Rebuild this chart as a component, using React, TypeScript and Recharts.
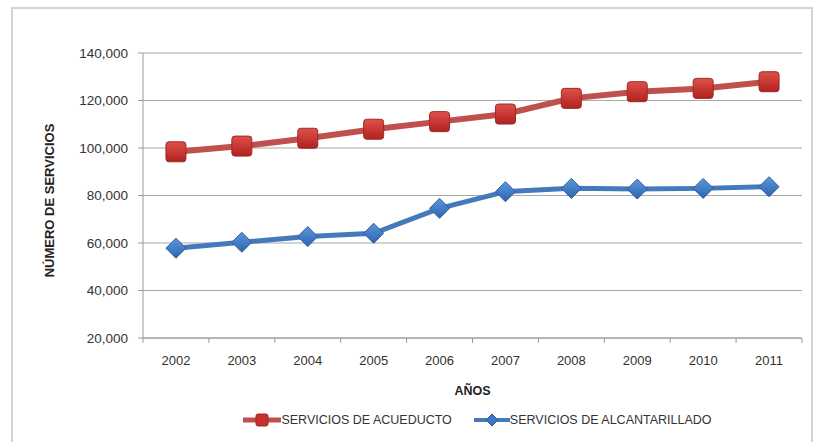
import React from 'react';
import { LineChart, Line, XAxis, YAxis, CartesianGrid, Legend } from 'recharts';

const anios = ['2002', '2003', '2004', '2005', '2006', '2007', '2008', '2009', '2010', '2011'];
const acueducto = [98400, 100800, 104100, 107900, 111100, 114300, 120900, 123700, 125100, 127900];
const alcantarillado = [57800, 60300, 62700, 64100, 74600, 81600, 83000, 82700, 83000, 83700];
const ticksY = [20000, 40000, 60000, 80000, 100000, 120000, 140000];

const ROJO = '#c0504d';
const AZUL = '#4479bb';

const datos = anios.map((anio, i) => ({
  anio,
  acueducto: acueducto[i],
  alcantarillado: alcantarillado[i],
}));

const fuente = '"Liberation Sans", Arial, sans-serif';
const ANCHO_PLOT = 659;
const MEDIA_BANDA = ANCHO_PLOT / anios.length / 2;

const Cuadrado = (props: any) => {
  const { cx, cy, index } = props;
  if (cx == null || cy == null) return null;
  return (
    <rect key={`c-${index}`} x={cx - 10} y={cy - 10} width={20} height={20} rx={3}
      fill="url(#gradRojo)" stroke="#9b2b28" strokeWidth={1} />
  );
};

const Rombo = (props: any) => {
  const { cx, cy, index } = props;
  if (cx == null || cy == null) return null;
  const r = 10;
  return (
    <polygon key={`r-${index}`} points={`${cx},${cy - r} ${cx + r},${cy} ${cx},${cy + r} ${cx - r},${cy}`}
      fill="url(#gradAzul)" stroke="#2f5f99" strokeWidth={1} />
  );
};

// ticks del eje X entre categorias, como en Excel
const TickX = (props: any) => {
  const { x, y, payload, index } = props;
  return (
    <g>
      <line x1={x + MEDIA_BANDA} y1={y - 8} x2={x + MEDIA_BANDA} y2={y - 3} stroke="#9a9a9a" />
      {index === 0 && <line x1={x - MEDIA_BANDA} y1={y - 8} x2={x - MEDIA_BANDA} y2={y - 3} stroke="#9a9a9a" />}
      <text x={x} y={y + 19} textAnchor="middle" fontSize={13} fill="#333" fontFamily={fuente}>
        {payload.value}
      </text>
    </g>
  );
};

const renderLeyenda = () => (
  <div style={{ display: 'flex', justifyContent: 'center', gap: 22, fontFamily: fuente, fontSize: 12.5, color: '#333', marginLeft: 80 }}>
    <span style={{ display: 'flex', alignItems: 'center' }}>
      <svg width={38} height={14}>
        <line x1={0} y1={7} x2={38} y2={7} stroke={ROJO} strokeWidth={5} />
        <rect x={13} y={1} width={12} height={12} rx={2} fill="#c8302c" stroke="#9b2b28" />
      </svg>
      SERVICIOS DE ACUEDUCTO
    </span>
    <span style={{ display: 'flex', alignItems: 'center' }}>
      <svg width={36} height={14}>
        <line x1={0} y1={7} x2={36} y2={7} stroke={AZUL} strokeWidth={4} />
        <polygon points="18,1 24,7 18,13 12,7" fill="#3b79c4" stroke="#2f5f99" />
      </svg>
      SERVICIOS DE ALCANTARILLADO
    </span>
  </div>
);

export default function App() {
  return (
    <div style={{ position: 'absolute', left: 0, top: 0, width: 817, height: 442, background: '#fff' }}>
      <div style={{ position: 'absolute', left: 11, top: 7, width: 802, height: 440, border: '2px solid #d4d4d4', boxSizing: 'border-box' }} />
      <LineChart width={817} height={442} data={datos} margin={{ top: 53, right: 15, bottom: 20, left: 73 }}>
        <defs>
          <linearGradient id="gradRojo" x1="0" y1="0" x2="0" y2="1">
            <stop offset="0%" stopColor="#e0504a" />
            <stop offset="100%" stopColor="#b0221f" />
          </linearGradient>
          <linearGradient id="gradAzul" x1="0" y1="0" x2="0" y2="1">
            <stop offset="0%" stopColor="#5b97de" />
            <stop offset="100%" stopColor="#2d66ae" />
          </linearGradient>
        </defs>
        <CartesianGrid vertical={false} stroke="#a8a8a8" />
        <XAxis dataKey="anio" stroke="#9a9a9a" tickLine={false} tick={<TickX />} height={70}
          padding={{ left: MEDIA_BANDA, right: MEDIA_BANDA }}
          label={{ value: 'AÑOS', position: 'insideTop', offset: 48, fontSize: 12.5, fontWeight: 'bold', fill: '#222', fontFamily: fuente }} />
        <YAxis domain={[20000, 140000]} ticks={ticksY} width={70} stroke="#9a9a9a" tickSize={5} tickMargin={10}
          tick={{ fontSize: 13.5, fill: '#333', fontFamily: fuente }}
          tickFormatter={(v: number) => v.toLocaleString('en-US')}
          label={{ value: 'NÚMERO DE SERVICIOS', angle: -90, position: 'insideLeft', offset: -24, dy: 5, fontSize: 13, fontWeight: 'bold', fill: '#222', fontFamily: fuente, style: { textAnchor: 'middle' } }} />
        <Legend content={renderLeyenda} verticalAlign="bottom" wrapperStyle={{ bottom: 15 }} />
        <Line dataKey="acueducto" name="SERVICIOS DE ACUEDUCTO" stroke={ROJO} strokeWidth={6}
          dot={Cuadrado} activeDot={false} isAnimationActive={false} />
        <Line dataKey="alcantarillado" name="SERVICIOS DE ALCANTARILLADO" stroke={AZUL} strokeWidth={5}
          dot={Rombo} activeDot={false} isAnimationActive={false} />
      </LineChart>
    </div>
  );
}
